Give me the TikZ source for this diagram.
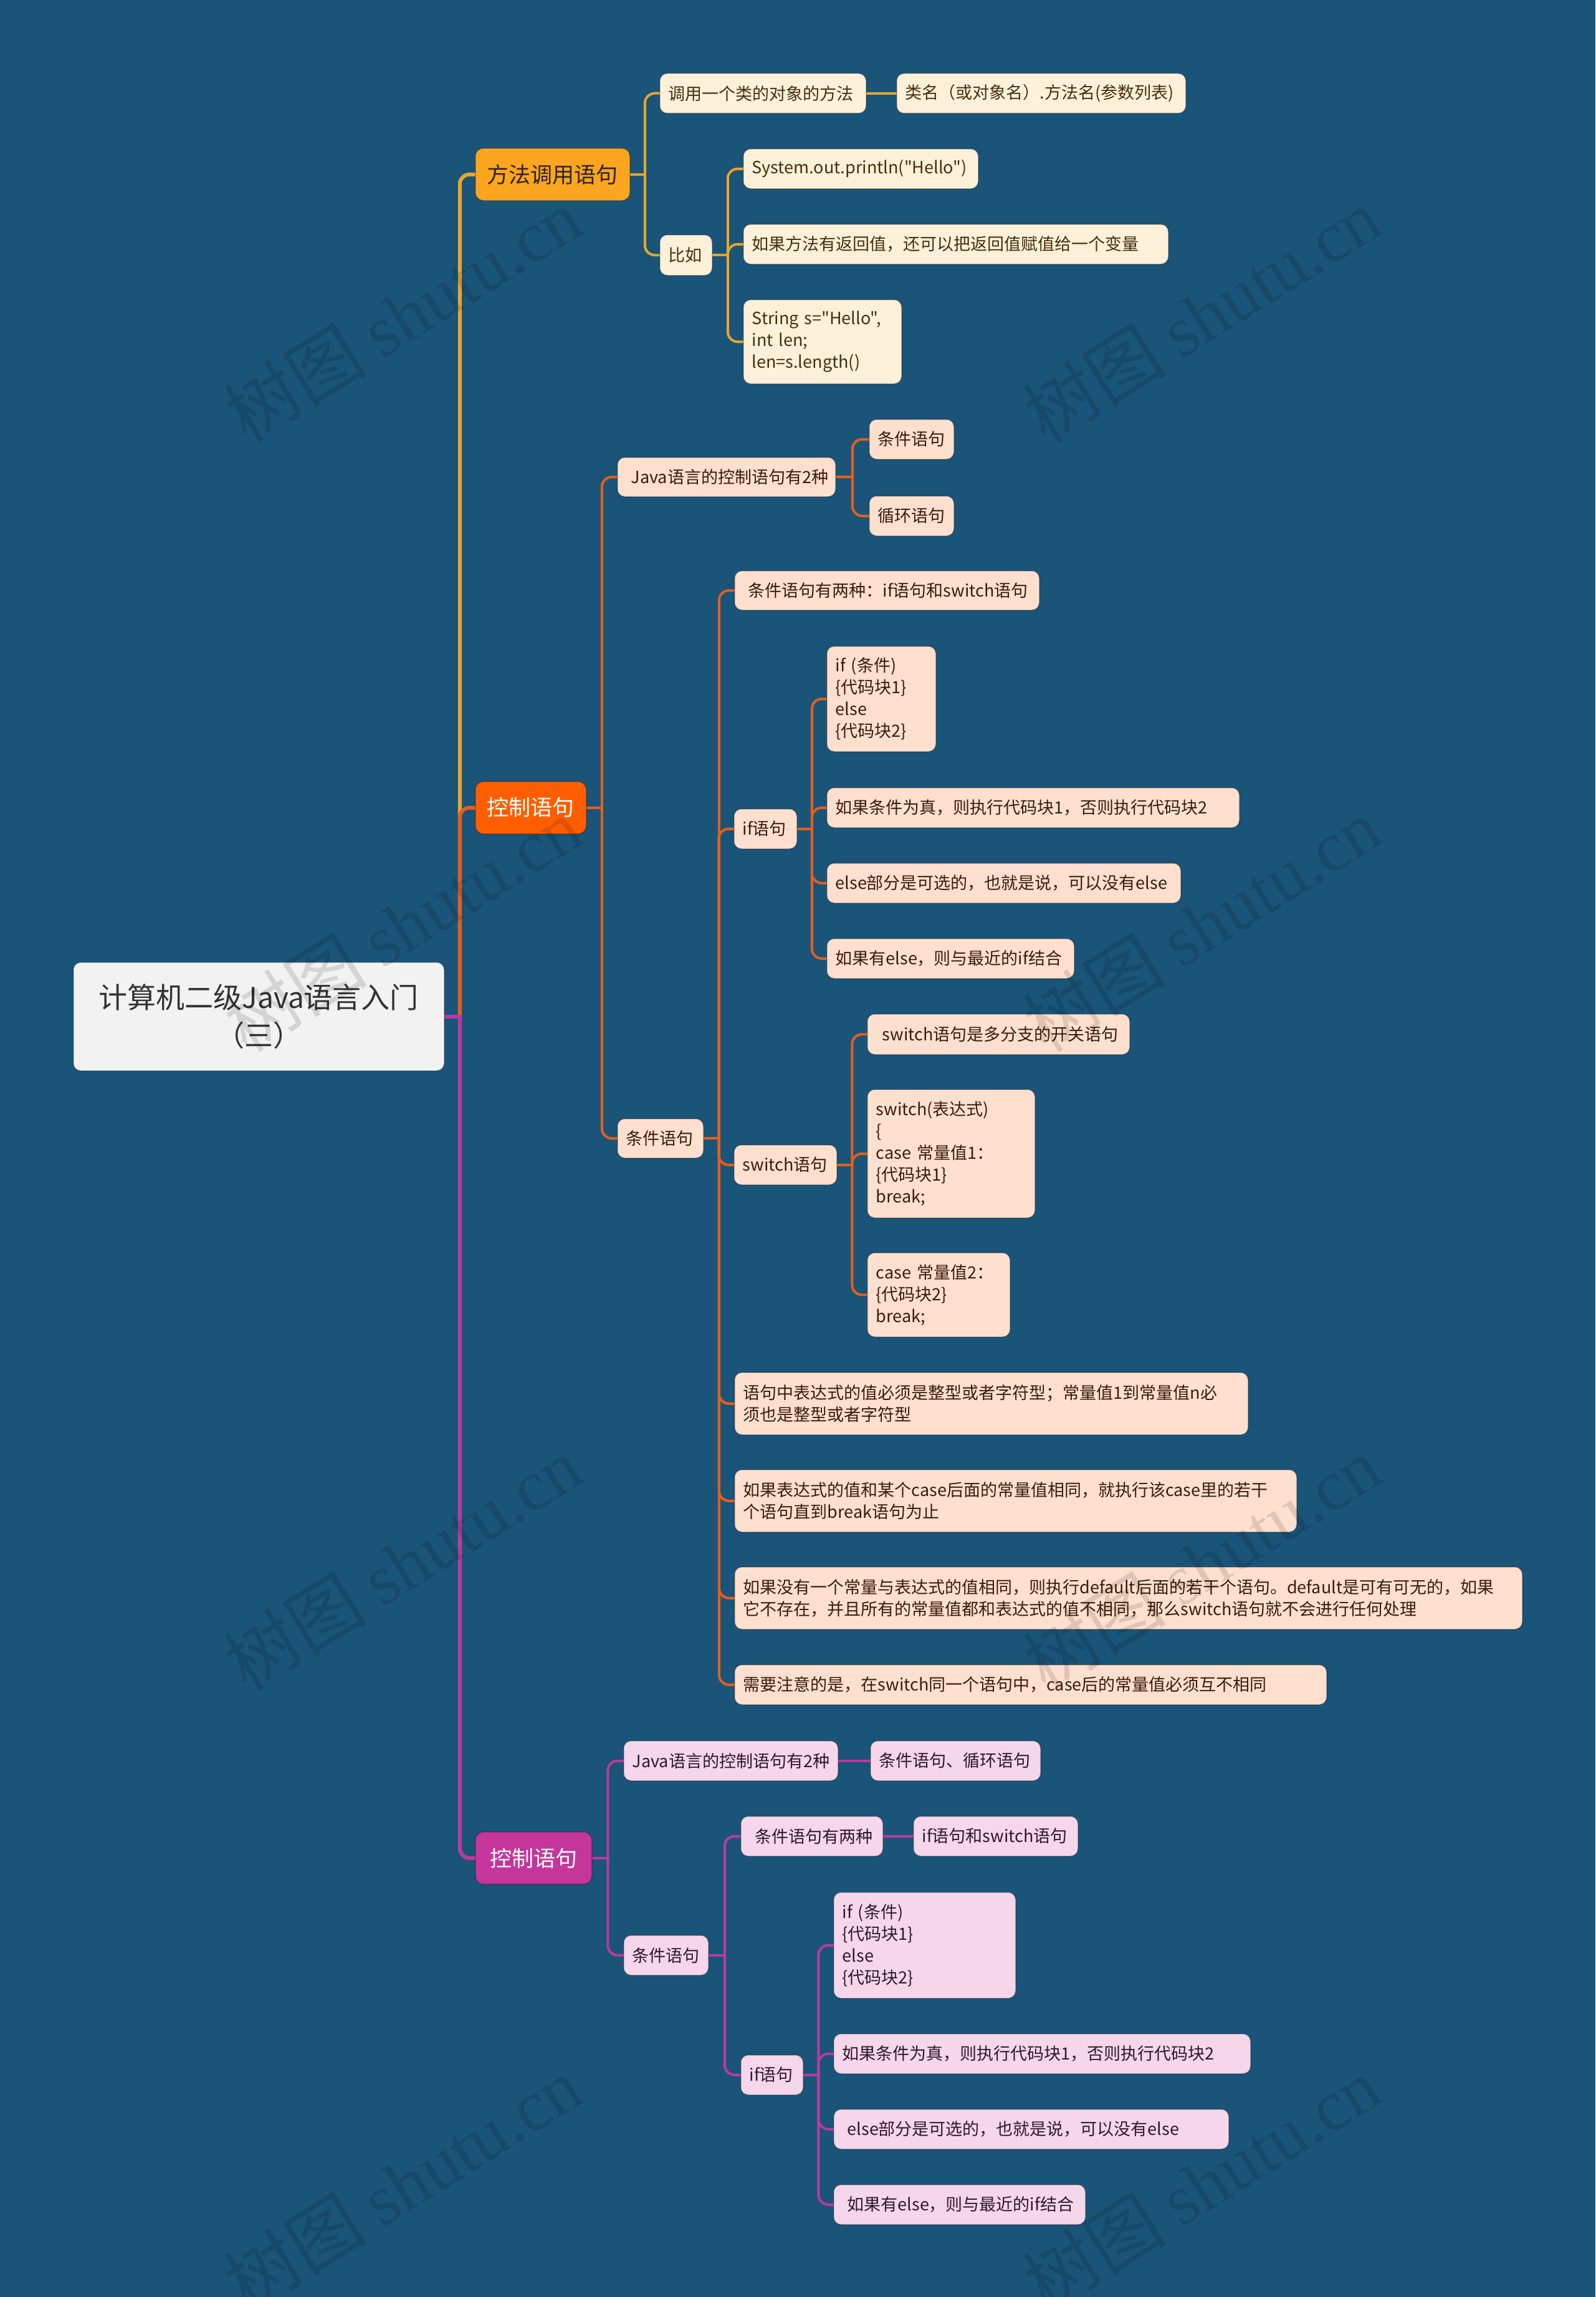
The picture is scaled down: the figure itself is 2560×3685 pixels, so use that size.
\documentclass[tikz,border=0pt]{standalone}
\usepackage{fontspec}
\setmainfont{Noto Sans CJK SC}
\newfontfamily\cjkplain{Noto Sans CJK SC}
\newfontfamily\wmlatin{Liberation Serif}
\pgfdeclarelayer{bgl}
\pgfdeclarelayer{lines}
\pgfsetlayers{bgl,lines,main}

\definecolor{bg}{HTML}{1A5479}
\definecolor{rootfill}{HTML}{F2F2F2}
\definecolor{roottext}{HTML}{333333}
\definecolor{yline}{HTML}{E9A52B}
\definecolor{ymain}{HTML}{FBA520}
\definecolor{ymaintext}{HTML}{2E2414}
\definecolor{yfill}{HTML}{FEF1D9}
\definecolor{ytext}{HTML}{45300F}
\definecolor{oline}{HTML}{E45F1C}
\definecolor{omain}{HTML}{FF5E00}
\definecolor{ofill}{HTML}{FFE0CF}
\definecolor{otext}{HTML}{3A1C0C}
\definecolor{mline}{HTML}{BA3B9B}
\definecolor{mmain}{HTML}{C5359B}
\definecolor{mfill}{HTML}{F5D6EA}
\definecolor{mtext}{HTML}{2E1A2A}

\newcommand\lnk[3]{%
  \path (#2.east) -- (#3.west) coordinate[pos=0.5] (mid);
  \draw[#1] (#2.east) -- (mid |- #2.east);
  \draw[#1, rounded corners=16] (mid |- #2.east) |- (#3.west);
}

\begin{document}
\begin{tikzpicture}[x=1pt,y=-1pt,
  nbase/.style={anchor=north west, rounded corners=12, inner xsep=14, inner ysep=0,
    draw=black, draw opacity=0.28, line width=1.5},
  leaf/.style={nbase, align=left, font=\cjkplain\fontsize{27}{35}\selectfont},
  yleaf/.style={leaf, fill=yfill, text=ytext},
  oleaf/.style={leaf, fill=ofill, text=otext},
  mleaf/.style={leaf, fill=mfill, text=mtext},
  mainnode/.style={nbase, align=center, rounded corners=13, minimum height=84,
    font=\cjkplain\fontsize{35}{42}\selectfont},
  rootnode/.style={nbase, align=center, fill=rootfill, text=roottext,
    font=\cjkplain\fontsize{46}{61}\selectfont},
  yl1/.style={draw=yline, line width=6, line cap=round},
  ol1/.style={draw=oline, line width=6, line cap=round},
  ml1/.style={draw=mline, line width=6, line cap=round},
  yln/.style={draw=yline, line width=4, line cap=round},
  oln/.style={draw=oline, line width=4, line cap=round},
  mln/.style={draw=mline, line width=4, line cap=round},
  wm/.style={text=black, text opacity=0.12, rotate=32, inner sep=0,
    font=\cjkplain\fontsize{115}{115}\selectfont}
]
\begin{pgfonlayer}{bgl}
\fill[bg] (0,0) rectangle (2560,3685);
\end{pgfonlayer}
\useasboundingbox (0,0) rectangle (2560,3685);

% root
\node[rootnode, text width=567, minimum height=174] (root) at (117,1543)
  {计算机二级Java语言入门\\（三）};

% main branches
\node[mainnode, fill=ymain, text=ymaintext, text width=220] (B1) at (762,237) {方法调用语句};
\node[mainnode, fill=omain, text=white, text width=150] (B2) at (762,1253) {控制语句};
\node[mainnode, fill=mmain, text=white, text width=159] (B3) at (762,2938) {控制语句};

% branch 1
\node[yleaf, text width=303, minimum height=64] (a1) at (1058,117) {调用一个类的对象的方法};
\node[yleaf, text width=436, minimum height=64] (a2) at (1438,117) {类名（或对象名）.方法名(参数列表)};
\node[yleaf, text width=56, minimum height=65] (a3) at (1058,376) {比如};
\node[yleaf, text width=349, minimum height=64] (a4) at (1192,238) {System.out.println("Hello")};
\node[yleaf, text width=654, minimum height=64] (a5) at (1192,359) {如果方法有返回值，还可以把返回值赋值给一个变量};
\node[yleaf, text width=226, minimum height=135] (a6) at (1192,480) {String~s="Hello",\\int~len;\\len=s.length()};

% branch 2
\node[oleaf, text width=322, minimum height=63] (b1) at (990,733) {\hspace*{8pt}Java语言的控制语句有2种};
\node[oleaf, text width=108, minimum height=64] (b2) at (1394,672) {条件语句};
\node[oleaf, text width=108, minimum height=64] (b3) at (1394,795) {循环语句};
\node[oleaf, text width=110, minimum height=63] (b4) at (990,1794) {条件语句};
\node[oleaf, text width=461, minimum height=63] (b5) at (1178,915) {\hspace*{8pt}条件语句有两种：if语句和switch语句};
\node[oleaf, text width=73, minimum height=64] (b6) at (1177,1297) {if语句};
\node[oleaf, text width=147, minimum height=169] (b7) at (1326,1036) {if~(条件)\\\{代码块1\}\\else\\\{代码块2\}};
\node[oleaf, text width=634, minimum height=64] (b8) at (1326,1263) {如果条件为真，则执行代码块1，否则执行代码块2};
\node[oleaf, text width=540, minimum height=64] (b9) at (1326,1384) {else部分是可选的，也就是说，可以没有else};
\node[oleaf, text width=369, minimum height=64] (b10) at (1326,1505) {如果有else，则与最近的if结合};
\node[oleaf, text width=137, minimum height=64] (b11) at (1177,1836) {switch语句};
\node[oleaf, text width=393, minimum height=65] (b12) at (1391,1626) {\hspace*{10pt}switch语句是多分支的开关语句};
\node[oleaf, text width=241, minimum height=206] (b13) at (1391,1747) {switch(表达式)\\\{\\case~常量值1：\\\{代码块1\}\\break;};
\node[oleaf, text width=201, minimum height=135] (b14) at (1391,2009) {case~常量值2：\\\{代码块2\}\\break;};
\node[oleaf, text width=796, minimum height=100] (b15) at (1178,2201) {语句中表达式的值必须是整型或者字符型；常量值1到常量值n必\\须也是整型或者字符型};
\node[oleaf, text width=874, minimum height=100] (b16) at (1178,2357) {如果表达式的值和某个case后面的常量值相同，就执行该case里的若干\\个语句直到break语句为止};
\node[oleaf, text width=1236, minimum height=100] (b17) at (1178,2513) {如果没有一个常量与表达式的值相同，则执行default后面的若干个语句。default是可有可无的，如果\\它不存在，并且所有的常量值都和表达式的值不相同，那么switch语句就不会进行任何处理};
\node[oleaf, text width=922, minimum height=64] (b18) at (1178,2670) {需要注意的是，在switch同一个语句中，case后的常量值必须互不相同};

% branch 3
\node[mleaf, text width=316, minimum height=64] (c1) at (1000,2792) {Java语言的控制语句有2种};
\node[mleaf, text width=245, minimum height=64] (c2) at (1396,2792) {条件语句、循环语句};
\node[mleaf, text width=108, minimum height=64] (c3) at (1000,3104) {条件语句};
\node[mleaf, text width=200, minimum height=64] (c4) at (1188,2913) {\hspace*{9pt}条件语句有两种};
\node[mleaf, text width=236, minimum height=64] (c5) at (1465,2913) {if语句和switch语句};
\node[mleaf, text width=72, minimum height=64] (c6) at (1188,3296) {if语句};
\node[mleaf, text width=264, minimum height=170] (c7) at (1337,3035) {if~(条件)\\\{代码块1\}\\else\\\{代码块2\}};
\node[mleaf, text width=641, minimum height=64] (c8) at (1337,3262) {如果条件为真，则执行代码块1，否则执行代码块2};
\node[mleaf, text width=606, minimum height=64] (c9) at (1337,3383) {\hspace*{8pt}else部分是可选的，也就是说，可以没有else};
\node[mleaf, text width=376, minimum height=64] (c10) at (1337,3504) {\hspace*{8pt}如果有else，则与最近的if结合};

% connectors
\begin{pgfonlayer}{lines}
\lnk{yl1}{root}{B1}
\lnk{ol1}{root}{B2}
\lnk{ml1}{root}{B3}
\lnk{yln}{B1}{a1}
\lnk{yln}{B1}{a3}
\draw[yln] (a1.east) -- (a2.west);
\lnk{yln}{a3}{a4}
\lnk{yln}{a3}{a5}
\lnk{yln}{a3}{a6}
\lnk{oln}{B2}{b1}
\lnk{oln}{B2}{b4}
\lnk{oln}{b1}{b2}
\lnk{oln}{b1}{b3}
\lnk{oln}{b4}{b5}
\lnk{oln}{b4}{b6}
\lnk{oln}{b4}{b11}
\lnk{oln}{b4}{b15}
\lnk{oln}{b4}{b16}
\lnk{oln}{b4}{b17}
\lnk{oln}{b4}{b18}
\lnk{oln}{b6}{b7}
\lnk{oln}{b6}{b8}
\lnk{oln}{b6}{b9}
\lnk{oln}{b6}{b10}
\lnk{oln}{b11}{b12}
\lnk{oln}{b11}{b13}
\lnk{oln}{b11}{b14}
\lnk{mln}{B3}{c1}
\lnk{mln}{B3}{c3}
\draw[mln] (c1.east) -- (c2.west);
\lnk{mln}{c3}{c4}
\lnk{mln}{c3}{c6}
\draw[mln] (c4.east) -- (c5.west);
\lnk{mln}{c6}{c7}
\lnk{mln}{c6}{c8}
\lnk{mln}{c6}{c9}
\lnk{mln}{c6}{c10}
\end{pgfonlayer}

% watermarks
\node[wm] (w1) at (646,505) {树图 {\wmlatin shutu.cn}};
\node[wm] (w2) at (1928,505) {树图 {\wmlatin shutu.cn}};
\node[wm] (w3) at (646,1483) {树图 {\wmlatin shutu.cn}};
\node[wm] (w4) at (1928,1483) {树图 {\wmlatin shutu.cn}};
\node[wm] (w5) at (646,2508) {树图 {\wmlatin shutu.cn}};
\node[wm] (w6) at (1928,2508) {树图 {\wmlatin shutu.cn}};
\node[wm] (w7) at (646,3503) {树图 {\wmlatin shutu.cn}};
\node[wm] (w8) at (1928,3503) {树图 {\wmlatin shutu.cn}};
\end{tikzpicture}
\end{document}
